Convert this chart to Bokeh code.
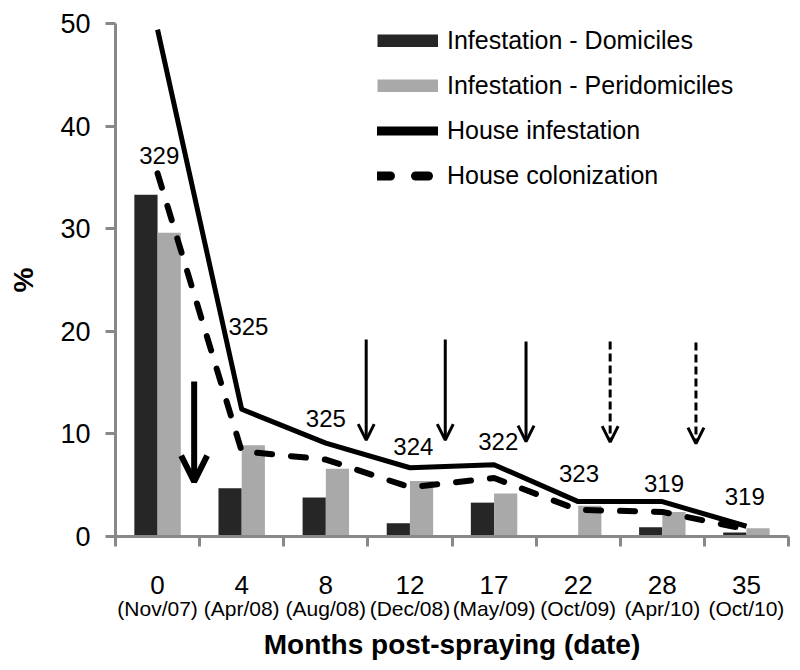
from bokeh.plotting import figure
from bokeh.models import (Range1d, FixedTicker, LinearAxis, Arrow, OpenHead, Legend,
                          ColumnDataSource, CustomJSTickFormatter)
from bokeh.transform import dodge
from bokeh.core.properties import value
from bokeh.embed import file_html
from bokeh.resources import INLINE

# ---- data ----
months = ["0", "4", "8", "12", "17", "22", "28", "35"]
dates = ["(Nov/07)", "(Apr/08)", "(Aug/08)", "(Dec/08)", "(May/09)", "(Oct/09)", "(Apr/10)", "(Oct/10)"]
infest_domiciles = [33.3, 4.7, 3.8, 1.3, 3.3, 0.0, 0.9, 0.4]
infest_peridomiciles = [29.6, 8.9, 6.6, 5.4, 4.2, 3.0, 2.4, 0.8]
house_infestation = [49.4, 12.4, 9.1, 6.7, 7.0, 3.4, 3.4, 1.0]
house_colonization = [35.4, 8.3, 7.5, 4.8, 5.7, 2.6, 2.4, 0.7]
n_houses = [329, 325, 325, 324, 322, 323, 319, 319]
y_ticks = [0, 10, 20, 30, 40, 50]

# annotation placement (data units)
n_label_dx = [0.02, 0.08, 0.0, 0.04, 0.05, 0.01, 0.02, -0.02]
n_label_y = [37.1, 20.5, 11.5, 8.75, 9.25, 6.1, 5.15, 3.9]
arrow_x = [0.435, 2.48, 3.42, 4.38, 5.38, 6.40]
arrow_top = [15.1, 19.2, 19.2, 19.0, 19.0, 18.9]
arrow_tip = [5.35, 9.4, 9.4, 9.25, 9.2, 9.05]
arrow_style = ["bold", "solid", "solid", "solid", "dashed", "dashed"]

FONT = "Liberation Sans"
AXIS_GRAY = "#888888"
DARK = "#262626"
LIGHT = "#a9a9a9"
NAN = float("nan")

idx = list(range(len(months)))
src = ColumnDataSource(dict(
    x=idx,
    dom=infest_domiciles,
    peri=infest_peridomiciles,
    hi=house_infestation,
    hc=house_colonization,
    n=[str(v) for v in n_houses],
    lx=[i + d for i, d in zip(idx, n_label_dx)],
    ly=n_label_y,
))

p = figure(width=792, height=662, x_range=Range1d(-0.5, len(months) - 0.5),
           y_range=Range1d(0, 50), output_backend="svg", toolbar_location=None,
           x_axis_location=None, y_axis_location=None,
           min_border_left=115, min_border_top=23, min_border_right=4, min_border_bottom=125)
p.outline_line_color = None
p.grid.visible = False

# ---- axes ----
yaxis = LinearAxis(ticker=FixedTicker(ticks=y_ticks), axis_label="%")
yaxis.axis_line_color = AXIS_GRAY
yaxis.axis_line_width = 3
yaxis.major_tick_line_color = AXIS_GRAY
yaxis.major_tick_line_width = 3
yaxis.major_tick_out = 10
yaxis.major_tick_in = 0
yaxis.minor_tick_line_color = None
yaxis.major_label_text_font = FONT
yaxis.major_label_text_font_size = "27px"
yaxis.major_label_text_color = "black"
yaxis.major_label_standoff = 15
yaxis.axis_label_text_font = FONT
yaxis.axis_label_text_font_size = "28px"
yaxis.axis_label_text_font_style = "bold"
yaxis.axis_label_text_color = "black"
yaxis.axis_label_standoff = 18
p.add_layout(yaxis, "left")

xaxis_num = LinearAxis(
    ticker=FixedTicker(ticks=idx, minor_ticks=[i - 0.5 for i in range(len(months) + 1)]),
    formatter=CustomJSTickFormatter(args=dict(labels=months),
                                    code="return labels[Math.round(tick)] || '';"))
xaxis_num.axis_line_color = AXIS_GRAY
xaxis_num.axis_line_width = 3
xaxis_num.major_tick_line_color = None
xaxis_num.major_tick_out = 10
xaxis_num.major_tick_in = 0
xaxis_num.minor_tick_line_color = AXIS_GRAY
xaxis_num.minor_tick_line_width = 3
xaxis_num.minor_tick_out = 10
xaxis_num.minor_tick_in = 0
xaxis_num.major_label_text_font = FONT
xaxis_num.major_label_text_font_size = "26px"
xaxis_num.major_label_text_color = "black"
xaxis_num.major_label_standoff = 29
p.add_layout(xaxis_num, "below")

xaxis_date = LinearAxis(
    ticker=FixedTicker(ticks=idx),
    formatter=CustomJSTickFormatter(args=dict(labels=dates),
                                    code="return labels[Math.round(tick)] || '';"),
    axis_label="Months post-spraying (date)")
xaxis_date.axis_line_color = None
xaxis_date.major_tick_line_color = None
xaxis_date.minor_tick_line_color = None
xaxis_date.major_tick_out = 0
xaxis_date.major_tick_in = 0
xaxis_date.major_label_text_font = FONT
xaxis_date.major_label_text_font_size = "21px"
xaxis_date.major_label_text_color = "black"
xaxis_date.major_label_standoff = 0
xaxis_date.axis_label_text_font = FONT
xaxis_date.axis_label_text_font_size = "28px"
xaxis_date.axis_label_text_font_style = "bold"
xaxis_date.axis_label_text_color = "black"
xaxis_date.axis_label_standoff = 6
p.add_layout(xaxis_date, "below")

# ---- bars ----
BW = 0.276
p.vbar(x=dodge("x", -BW / 2), top="dom", width=BW, source=src,
       fill_color=DARK, line_color=None)
p.vbar(x=dodge("x", BW / 2), top="peri", width=BW, source=src,
       fill_color=LIGHT, line_color=None)

# ---- lines ----
p.line(x="x", y="hi", source=src, line_color="black", line_width=5, line_join="round")
p.line(x="x", y="hc", source=src, line_color="black", line_width=6, line_join="round",
       line_cap="round", line_dash="15 19")

# ---- sample sizes ----
p.text(x="lx", y="ly", text="n", source=src, text_font=value(FONT), text_font_size="24px",
       text_align="center", text_baseline="middle", text_color="black")

# ---- arrows ----
for ax, at, tip, st in zip(arrow_x, arrow_top, arrow_tip, arrow_style):
    if st == "bold":
        head = OpenHead(size=26, line_width=6, line_color="black")
        arr = Arrow(end=head, x_start=ax, y_start=at, x_end=ax, y_end=tip,
                    line_width=6, line_color="black")
    elif st == "solid":
        head = OpenHead(size=16, line_width=3, line_color="black")
        arr = Arrow(end=head, x_start=ax, y_start=at, x_end=ax, y_end=tip,
                    line_width=3, line_color="black")
    else:
        head = OpenHead(size=16, line_width=3, line_color="black")
        arr = Arrow(end=head, x_start=ax, y_start=at, x_end=ax, y_end=tip,
                    line_width=3, line_color="black", line_dash="8 4")
    p.add_layout(arr)

# ---- legend (swatches drawn like the reference; the placeholder lines hold no points) ----
lg1 = p.line(x=[NAN], y=[NAN], line_color=DARK, line_width=13, line_cap="butt")
lg2 = p.line(x=[NAN], y=[NAN], line_color=LIGHT, line_width=13, line_cap="butt")
lg3 = p.line(x=[NAN], y=[NAN], line_color="black", line_width=9, line_cap="round")
lg4 = p.line(x=[NAN], y=[NAN], line_color="black", line_width=9, line_cap="round",
             line_dash="13 25")
legend = Legend(items=[("Infestation - Domiciles", [lg1]),
                       ("Infestation - Peridomiciles", [lg2]),
                       ("House infestation", [lg3]),
                       ("House colonization", [lg4])],
                location=(262, 345.5))
legend.glyph_width = 61
legend.glyph_height = 13
legend.label_height = 30
legend.label_standoff = 9
legend.spacing = 15
legend.padding = 0
legend.margin = 0
legend.border_line_color = None
legend.background_fill_alpha = 0
legend.label_text_font = FONT
legend.label_text_font_size = "25px"
legend.label_text_color = "black"
p.add_layout(legend)

open("out.html", "w").write(file_html(p, INLINE))
